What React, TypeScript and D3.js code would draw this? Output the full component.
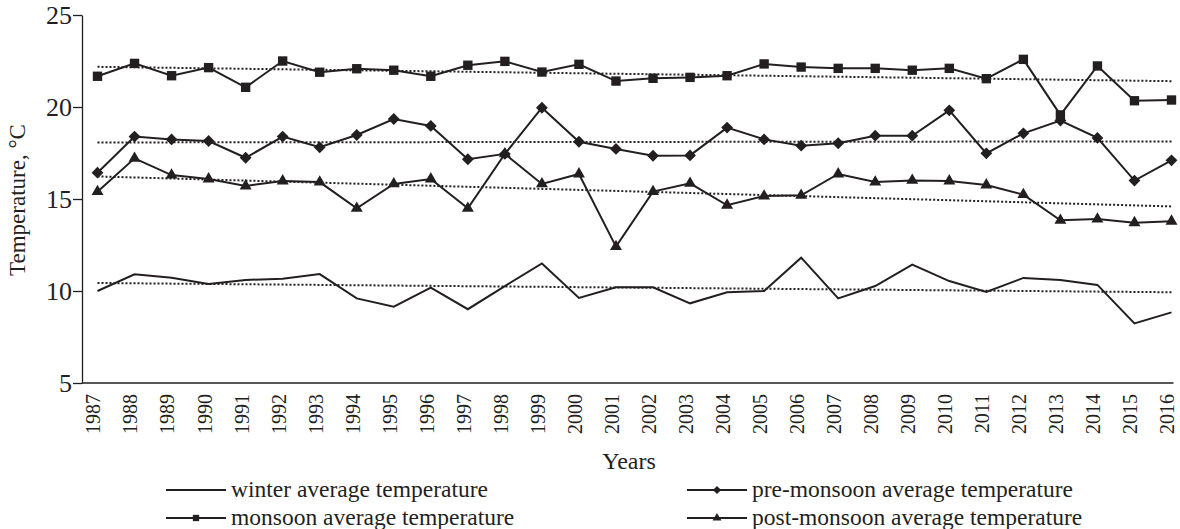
import { useEffect, useRef } from 'react';
import * as d3 from 'd3';

// values
const years = [
  1987, 1988, 1989, 1990, 1991, 1992, 1993, 1994, 1995, 1996,
  1997, 1998, 1999, 2000, 2001, 2002, 2003, 2004, 2005, 2006,
  2007, 2008, 2009, 2010, 2011, 2012, 2013, 2014, 2015, 2016,
];
const winter = [
  10.0, 10.91, 10.72, 10.38, 10.6, 10.67, 10.92, 9.6, 9.15, 10.18,
  9.01, 10.27, 11.5, 9.62, 10.2, 10.2, 9.33, 9.93, 10.0, 11.81,
  9.6, 10.27, 11.43, 10.54, 9.95, 10.71, 10.6, 10.33, 8.24, 8.84,
];
const preMonsoon = [
  16.43, 18.39, 18.24, 18.15, 17.24, 18.39, 17.81, 18.48, 19.35, 18.97,
  17.16, 17.45, 19.96, 18.11, 17.72, 17.35, 17.37, 18.88, 18.24, 17.9,
  18.03, 18.44, 18.44, 19.82, 17.48, 18.57, 19.26, 18.32, 16.0, 17.1,
];
const monsoon = [
  21.67, 22.37, 21.7, 22.14, 21.07, 22.5, 21.89, 22.08, 22.0, 21.67,
  22.27, 22.48, 21.9, 22.32, 21.41, 21.56, 21.61, 21.7, 22.34, 22.17,
  22.1, 22.1, 22.0, 22.1, 21.54, 22.59, 19.57, 22.23, 20.34, 20.38,
];
const postMonsoon = [
  15.4, 17.21, 16.3, 16.09, 15.71, 15.98, 15.92, 14.49, 15.82, 16.09,
  14.49, 17.45, 15.82, 16.36, 12.41, 15.4, 15.85, 14.66, 15.16, 15.2,
  16.36, 15.92, 16.01, 15.98, 15.76, 15.24, 13.84, 13.91, 13.71, 13.79,
];
const yTicks = [5, 10, 15, 20, 25];
const legendLabels = [
  'winter average temperature',
  'pre-monsoon average temperature',
  'monsoon average temperature',
  'post-monsoon average temperature',
];

const W = 1180;
const H = 529;
const ink = '#231f20';
const font = '"Liberation Serif", "Times New Roman", serif';

type Marker = 'none' | 'square' | 'diamond' | 'triangle';

const markerPath = (m: Marker, s: number) => {
  if (m === 'square' || m === 'diamond') return d3.symbol(d3.symbolSquare, s)()!;
  if (m === 'triangle') return d3.symbol(d3.symbolTriangle, s)()!;
  return '';
};

// least squares fit
const fit = (xs: number[], ys: number[]) => {
  const mx = d3.mean(xs)!;
  const my = d3.mean(ys)!;
  const num = d3.sum(xs, (x, i) => (x - mx) * (ys[i] - my));
  const den = d3.sum(xs, x => (x - mx) * (x - mx));
  const b = num / den;
  return (x: number) => my + b * (x - mx);
};

const App = () => {
  const svgRef = useRef<SVGSVGElement>(null);

  useEffect(() => {
    const svg = d3.select(svgRef.current);
    svg.selectAll('*').remove();

    const x = d3.scaleLinear().domain([years[0], years[years.length - 1]]).range([97.5, 1171.5]);
    const y = d3.scaleLinear().domain([5, 25]).range([383, 15]);
    const axisX = 82;

    const series = [
      { values: winter, marker: 'none' as Marker },
      { values: monsoon, marker: 'square' as Marker },
      { values: preMonsoon, marker: 'diamond' as Marker },
      { values: postMonsoon, marker: 'triangle' as Marker },
    ];

    // y axis
    const gy = svg.append('g')
      .attr('transform', `translate(${axisX},0)`)
      .call(d3.axisLeft(y).tickValues(yTicks).tickSize(9).tickSizeOuter(0).tickPadding(1));
    gy.select('.domain').attr('stroke', ink).attr('stroke-width', 1.3);
    gy.selectAll('.tick line').attr('stroke', ink).attr('stroke-width', 1.3);
    gy.selectAll('.tick text')
      .attr('fill', ink)
      .attr('font-family', font)
      .attr('font-size', 26)
      .attr('dy', '0.33em');

    // x axis
    const gx = svg.append('g')
      .attr('transform', `translate(0,${y(5)})`)
      .call(d3.axisBottom(x).tickValues(years).tickSize(0).tickFormat(d3.format('d')));
    gx.select('.domain').remove();
    gx.append('line')
      .attr('x1', axisX)
      .attr('x2', x(years[years.length - 1]) + 2)
      .attr('stroke', ink)
      .attr('stroke-width', 1.3);
    gx.selectAll('.tick text')
      .attr('fill', ink)
      .attr('font-family', font)
      .attr('font-size', 20)
      .attr('transform', 'rotate(-90)')
      .attr('text-anchor', 'end')
      .attr('x', -11)
      .attr('y', 0)
      .attr('dy', '0.12em');

    // axis titles
    svg.append('text')
      .attr('transform', `translate(25,${(y(5) + y(25)) / 2 + 1}) rotate(-90)`)
      .attr('text-anchor', 'middle')
      .attr('font-family', font)
      .attr('font-size', 23)
      .attr('fill', ink)
      .text('Temperature, °C');
    svg.append('text')
      .attr('x', 629)
      .attr('y', 469)
      .attr('text-anchor', 'middle')
      .attr('font-family', font)
      .attr('font-size', 24)
      .attr('fill', ink)
      .text('Years');

    const line = d3.line<number>()
      .x((_, i) => x(years[i]))
      .y(d => y(d));

    series.forEach(s => {
      // trend
      const f = fit(years, s.values);
      const ends = [years[0], years[years.length - 1]];
      svg.append('path')
        .attr('d', d3.line<number>().x(d => x(d)).y(d => y(f(d)))(ends))
        .attr('fill', 'none')
        .attr('stroke', ink)
        .attr('stroke-width', 2)
        .attr('stroke-dasharray', '2 2');

      svg.append('path')
        .attr('d', line(s.values))
        .attr('fill', 'none')
        .attr('stroke', ink)
        .attr('stroke-width', 2);

      if (s.marker !== 'none') {
        const size = s.marker === 'square' ? 88 : s.marker === 'diamond' ? 70 : 62;
        svg.append('g')
          .selectAll('path')
          .data(s.values)
          .join('path')
          .attr('d', markerPath(s.marker, size))
          .attr('transform', (d, i) =>
            `translate(${x(years[i])},${y(d)})` + (s.marker === 'diamond' ? ' rotate(45)' : ''))
          .attr('fill', ink);
      }
    });

    // legend
    const legendPos = [
      { x: 166, y: 490 },
      { x: 687, y: 490 },
      { x: 166, y: 518 },
      { x: 687, y: 518 },
    ];
    const legendMarkers: Marker[] = ['none', 'diamond', 'square', 'triangle'];
    legendLabels.forEach((label, i) => {
      const p = legendPos[i];
      const g = svg.append('g').attr('transform', `translate(${p.x},${p.y})`);
      g.append('line').attr('x1', 0).attr('x2', 60).attr('stroke', ink).attr('stroke-width', 1.8);
      const m = legendMarkers[i];
      if (m !== 'none') {
        g.append('path')
          .attr('d', markerPath(m, m === 'square' ? 40 : 34))
          .attr('transform', `translate(30,0)` + (m === 'diamond' ? ' rotate(45)' : ''))
          .attr('fill', ink);
      }
      g.append('text')
        .attr('x', 65)
        .attr('dy', '0.3em')
        .attr('font-family', font)
        .attr('font-size', 23.5)
        .attr('fill', ink)
        .text(label);
    });
  }, []);

  return (
    <svg
      ref={svgRef}
      width={W}
      height={H}
      style={{ position: 'absolute', left: 0, top: 0, background: '#fff' }}
    />
  );
};

export default App;
